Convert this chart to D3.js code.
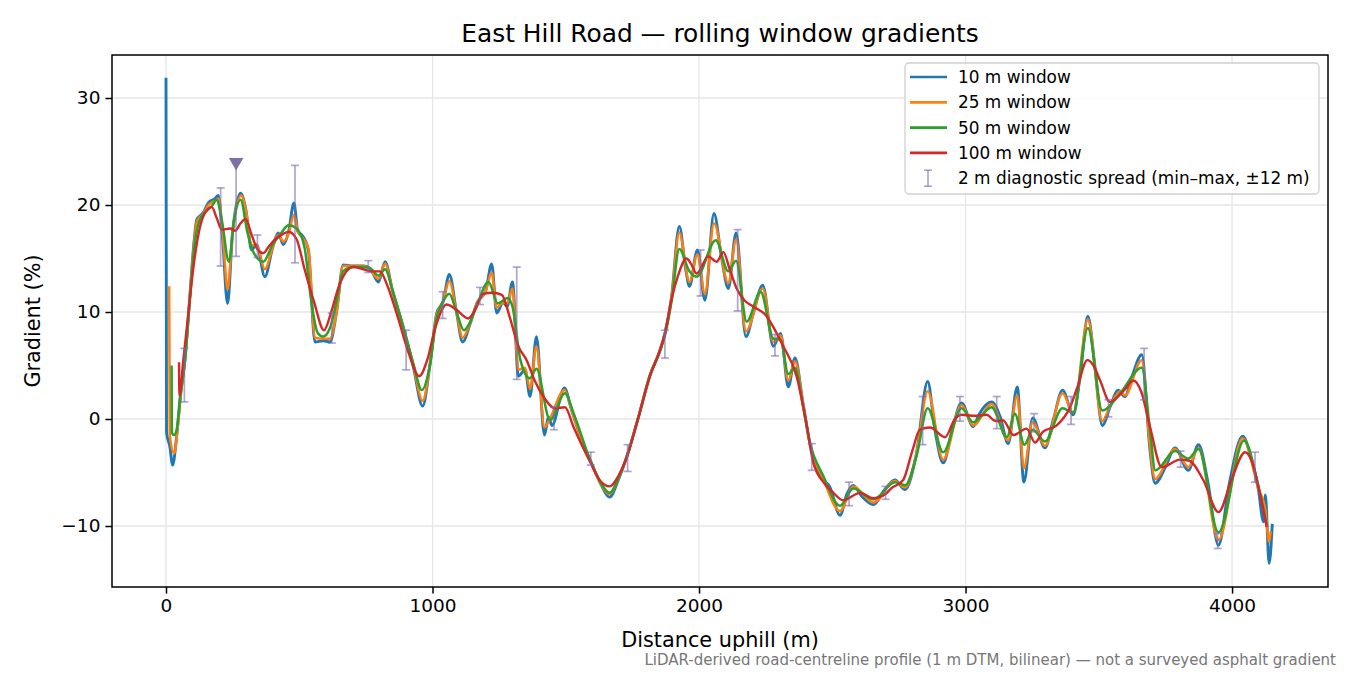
<!DOCTYPE html>
<html>
<head>
<meta charset="utf-8">
<script src="https://cdn.jsdelivr.net/npm/d3@7"></script>
<style>
  body { margin: 0; background: #fff; }
  text { font-family: "DejaVu Sans", sans-serif; }
</style>
</head>
<body>
<div id="chart"></div>
<script>
/* chart values: [distance m, gradient %] */
const win10 = [[0,31.9],[2,-1.3],[14,-2.5],[25,-4.3],[40,-1.6],[55,2.5],[71,5.5],[90,11.7],[105,16.5],[115,18.6],[140,19.3],[159,20.2],[184,20.6],[196,20.9],[212,17],[231,10.8],[250,17.5],[280,21.1],[300,19.5],[321,15.8],[340,16.3],[371,13.3],[400,16],[421,17.4],[440,16.3],[460,17.5],[480,20.2],[495,17.5],[510,17.2],[534,15.8],[559,7.2],[590,7.3],[615,7.2],[640,10],[665,14.4],[700,14.3],[740,14.3],[765,14.1],[797,12.8],[822,14.7],[850,12],[890,8.6],[928,4.9],[963,1.2],[990,5],[1016,9.9],[1040,11],[1063,13.5],[1090,10],[1113,7.2],[1140,8.8],[1166,10.8],[1200,12],[1222,14.5],[1241,9.9],[1265,10.9],[1280,10.5],[1300,12.8],[1322,4.0],[1347,4.6],[1366,2.1],[1390,7.7],[1420,-1.5],[1435,0.2],[1448,-0.6],[1495,2.9],[1520,1],[1560,-2],[1591,-3.8],[1630,-6],[1664,-7.3],[1700,-5.5],[1729,-3.5],[1773,0.2],[1816,4.1],[1853,6.4],[1872,8.0],[1897,11.4],[1926,18.0],[1950,14],[1964,12.4],[1994,15.8],[2022,11.1],[2056,19.2],[2085,15],[2110,12.2],[2139,17.4],[2176,7.7],[2205,10],[2239,12.5],[2279,6.8],[2306,8.0],[2335,3.0],[2360,5.7],[2390,1.5],[2416,-2.3],[2466,-5.7],[2490,-6.3],[2529,-9.0],[2555,-7],[2579,-6.2],[2610,-7.2],[2654,-8.0],[2700,-6.5],[2735,-5.7],[2773,-6.6],[2816,-3.2],[2858,3.5],[2885,-1],[2916,-4.1],[2950,-1],[2985,1.5],[3029,-0.7],[3050,0.4],[3098,1.6],[3130,0.2],[3160,-2.3],[3194,3.0],[3219,-5.9],[3252,0.1],[3298,-2.7],[3330,0],[3364,2.7],[3404,0.4],[3430,4],[3459,9.6],[3485,5],[3513,-0.6],[3542,1.1],[3573,2.7],[3598,2.1],[3625,4],[3661,6.0],[3692,-2.9],[3711,-6.0],[3750,-4.5],[3786,-2.7],[3836,-4.8],[3874,-2.4],[3910,-6],[3949,-11.8],[3990,-6],[4040,-1.6],[4070,-3.5],[4099,-6.6],[4118,-9.6],[4125,-7.1],[4139,-13.5],[4151,-9.8]];

const win25 = [[12,12.4],[14,-1.5],[31,-3.2],[45,-0.5],[58,2.8],[71,5.5],[90,11.6],[105,16.3],[115,18.4],[140,19.2],[159,20.0],[184,20.4],[198,20.6],[214,17],[231,12.1],[250,17.5],[282,20.9],[300,19.5],[321,16.2],[340,16.3],[371,14.0],[400,16],[421,17.2],[440,16.6],[460,17.3],[480,19.1],[495,17.5],[510,17.0],[534,16],[559,7.6],[590,7.5],[615,7.5],[640,10],[665,14.3],[700,14.3],[740,14.3],[765,14.0],[797,13.1],[822,14.5],[850,12],[890,8.6],[928,5],[963,1.7],[990,5],[1016,9.8],[1040,11],[1063,12.9],[1090,10],[1113,7.6],[1140,8.9],[1166,10.8],[1200,12],[1222,13.7],[1241,10.4],[1265,10.9],[1280,10.8],[1300,12.2],[1322,4.6],[1347,4.8],[1366,2.8],[1390,6.8],[1420,-0.8],[1440,0],[1495,2.7],[1520,1],[1560,-2],[1591,-3.8],[1630,-6],[1664,-7.0],[1700,-5.4],[1729,-3.5],[1773,0.2],[1816,4.1],[1853,6.4],[1872,8.0],[1897,11.4],[1926,17.4],[1964,12.8],[1994,15.4],[2022,11.7],[2056,18.3],[2110,12.7],[2139,16.8],[2176,8.2],[2239,12.2],[2279,7.2],[2306,7.8],[2335,3.6],[2360,5.4],[2390,1.5],[2416,-2.3],[2466,-5.6],[2529,-8.6],[2579,-6.3],[2654,-7.8],[2735,-5.8],[2773,-6.4],[2816,-3.2],[2858,2.6],[2916,-3.8],[2985,1.3],[3029,-0.6],[3098,1.4],[3160,-2.0],[3194,2.2],[3219,-4.6],[3252,-0.3],[3298,-2.5],[3364,2.4],[3404,0.6],[3459,9.3],[3513,-0.2],[3542,1.2],[3580,2.6],[3598,2.2],[3661,5.5],[3692,-2.5],[3711,-5.6],[3786,-2.8],[3836,-4.5],[3874,-2.7],[3949,-11.3],[4040,-1.8],[4099,-6.5],[4125,-8.5],[4139,-11.5],[4145,-10.5]];

const win50 = [[21,5.0],[22,-1.3],[30,-1.5],[40,-1.0],[55,2.3],[71,5.4],[90,11.3],[105,15.8],[125,18.5],[150,19.4],[175,20],[190,20.5],[210,18.5],[236,14.7],[255,18.5],[280,20.5],[305,17.5],[330,15.5],[365,14.7],[400,16.3],[430,17.3],[460,18.1],[490,17.8],[520,16],[545,11],[570,8],[590,7.7],[615,8.5],[640,11],[665,13.8],[700,14.2],[740,14.2],[770,14.0],[797,13.4],[822,14.0],[850,12],[890,8.6],[928,5.2],[960,2.7],[990,5],[1016,9.5],[1040,11],[1063,11.7],[1090,10],[1118,8.3],[1140,9],[1166,10.6],[1210,12.8],[1245,10.8],[1282,11.3],[1300,10.5],[1330,5.5],[1365,3.8],[1390,4.7],[1441,-0.1],[1497,2.4],[1530,0.5],[1591,-3.8],[1630,-5.9],[1664,-6.9],[1700,-5.4],[1729,-3.5],[1773,0.2],[1816,4.1],[1853,6.3],[1872,7.8],[1897,11],[1926,15.9],[1964,13.8],[1991,13.3],[2063,16.7],[2110,13.8],[2139,14.8],[2179,9.1],[2231,11.9],[2279,7.5],[2306,7.4],[2335,4.2],[2360,4.8],[2390,1.2],[2416,-2.2],[2466,-5.3],[2529,-8.1],[2579,-6.5],[2654,-7.5],[2735,-5.9],[2773,-6.2],[2816,-3.5],[2858,1.0],[2916,-3.1],[2985,1.0],[3029,-0.3],[3098,1.1],[3155,-1.7],[3185,0.5],[3221,-2.4],[3252,-1.0],[3298,-2.1],[3364,1.0],[3404,0.6],[3459,8.5],[3513,0.8],[3580,2.4],[3661,4.8],[3692,-1],[3712,-4.8],[3786,-3.0],[3836,-3.7],[3874,-2.8],[3949,-10.6],[4045,-2.0],[4099,-6.3],[4130,-9.9]];

const win100 = [[49,5.3],[50,2.2],[65,5.5],[84,9.9],[103,14.2],[128,18],[150,19.4],[172,19.8],[190,18.8],[209,17.7],[240,17.8],[260,17.6],[280,18.3],[299,18.7],[320,17.3],[345,15.8],[365,15.5],[385,16.1],[410,16.8],[440,17.3],[460,17.5],[490,16.8],[520,14],[555,11],[593,8.3],[620,10],[650,12.5],[703,14.2],[740,14.0],[770,13.8],[803,13.8],[830,12.5],[870,9.5],[910,6.2],[950,4.0],[980,5.5],[1010,8.5],[1053,10.7],[1090,10.2],[1134,9.4],[1160,10.2],[1190,11.7],[1225,11.8],[1260,11.6],[1290,9.5],[1322,6.8],[1353,5.5],[1385,3.5],[1416,2.1],[1460,1.0],[1497,1.1],[1530,-0.8],[1591,-4.0],[1630,-5.8],[1664,-6.3],[1700,-5.2],[1729,-3.6],[1773,0.2],[1816,4.0],[1853,6.4],[1872,8.0],[1897,11.2],[1920,13.3],[1953,15.0],[1970,14.5],[1991,13.6],[2035,15.2],[2066,14.7],[2091,15.6],[2115,14],[2141,12.2],[2170,11.1],[2204,10.5],[2254,9.6],[2285,8.3],[2316,6.8],[2366,4.0],[2400,0],[2429,-4.1],[2470,-6],[2504,-6.9],[2541,-7.6],[2604,-6.9],[2654,-7.4],[2700,-7.0],[2720,-6.5],[2766,-5.7],[2800,-3],[2829,-1.0],[2867,-0.8],[2923,-1.7],[2960,0],[2985,0.4],[3035,0.3],[3079,0.4],[3105,-0.1],[3123,-0.2],[3140,-0.1],[3180,-1.5],[3229,-0.9],[3261,-2.2],[3290,-1.2],[3342,-0.6],[3392,1.1],[3420,3],[3457,5.5],[3480,5],[3505,3.6],[3542,1.6],[3592,2.6],[3630,3.6],[3660,2.5],[3692,-0.7],[3736,-4.5],[3805,-3.8],[3840,-3.9],[3892,-5.7],[3949,-8.7],[4000,-5.5],[4049,-3.1],[4075,-4],[4099,-6.3],[4130,-10.1]];

// 2 m diagnostic spread (min / max within ±12 m)
const spreadDist = [69,205,263,343,484,622,759,901,1038,1178,1316,1456,1594,1732,1872,2006,2145,2285,2423,2563,2700,2839,2979,3117,3257,3396,3536,3670,3807,3946,4086];
const spreadMin = [1.6,14.3,15.2,15.1,14.6,7.1,13.7,4.6,9.4,10.7,3.7,-1.0,-4.3,-4.9,5.7,11.5,10.1,5.9,-4.8,-8.1,-7.5,-2.4,-0.2,-0.9,-1.2,-0.5,0.2,1.8,-4.5,-12.1,-5.9];
const spreadMax = [6.6,21.6,23.9,17.2,23.7,9.9,14.8,8.3,11.9,12.3,14.2,1.1,-3.1,-2.4,8.3,15.8,17.7,7.9,-2.3,-5.9,-6.3,2.1,2.1,2.1,0.5,2.1,1.8,6.6,-3.0,-10.7,-3.1];
// steepest 2 m spot
const peakMark = [263, 24.0];

const seriesNames = ["10 m window", "25 m window", "50 m window", "100 m window"];
const seriesData = [win10, win25, win50, win100];
const seriesColors = ["#1f77b4", "#ff7f0e", "#2ca02c", "#d62728"];
const seriesWidths = [2.9, 2.5, 2.5, 2.4];

const xTicks = [0, 1000, 2000, 3000, 4000];
const yTicks = [-10, 0, 10, 20, 30];

const width = 1350, height = 675,
  margin = { top: 55, right: 22, bottom: 88, left: 112 };

const svg = d3.select("#chart").append("svg")
  .attr("width", width).attr("height", height);

const x = d3.scaleLinear().domain([-202.6, 4360]).range([margin.left, width - margin.right]);
const y = d3.scaleLinear().domain([-15.7, 34.02]).range([height - margin.bottom, margin.top]);

// grid
svg.append("g").selectAll("line.vg").data(xTicks).join("line")
  .attr("x1", d => x(d)).attr("x2", d => x(d))
  .attr("y1", y.range()[1]).attr("y2", y.range()[0])
  .attr("stroke", "#e6e6e6").attr("stroke-width", 1.3);
svg.append("g").selectAll("line.hg").data(yTicks).join("line")
  .attr("y1", d => y(d)).attr("y2", d => y(d))
  .attr("x1", x.range()[0]).attr("x2", x.range()[1])
  .attr("stroke", "#e6e6e6").attr("stroke-width", 1.3);

svg.append("clipPath").attr("id", "clip").append("rect")
  .attr("x", margin.left).attr("y", margin.top)
  .attr("width", width - margin.left - margin.right)
  .attr("height", height - margin.top - margin.bottom);

const line = d3.line().x(d => x(d[0])).y(d => y(d[1])).curve(d3.curveMonotoneX);

const plot = svg.append("g").attr("clip-path", "url(#clip)");
plot.selectAll("path.series").data(seriesData).join("path")
  .attr("class", "series")
  .attr("d", line)
  .attr("fill", "none")
  .attr("stroke", (d, i) => seriesColors[i])
  .attr("stroke-width", (d, i) => seriesWidths[i])
  .attr("stroke-linejoin", "round");

// error bars
const spread = spreadDist.map((d, i) => ({ d, lo: spreadMin[i], hi: spreadMax[i] }));
const eb = plot.append("g").attr("stroke", "#756bb1").attr("stroke-opacity", 0.6).attr("stroke-width", 1.7);
eb.selectAll("line.bar").data(spread).join("line")
  .attr("x1", d => x(d.d)).attr("x2", d => x(d.d))
  .attr("y1", d => y(d.lo)).attr("y2", d => y(d.hi));
eb.selectAll("line.capl").data(spread).join("line")
  .attr("x1", d => x(d.d) - 4).attr("x2", d => x(d.d) + 4)
  .attr("y1", d => y(d.lo)).attr("y2", d => y(d.lo));
eb.selectAll("line.caph").data(spread).join("line")
  .attr("x1", d => x(d.d) - 4).attr("x2", d => x(d.d) + 4)
  .attr("y1", d => y(d.hi)).attr("y2", d => y(d.hi));

// marker
plot.append("path")
  .attr("d", d3.symbol().type(d3.symbolTriangle).size(90))
  .attr("transform", `translate(${x(peakMark[0])},${y(peakMark[1])}) rotate(180)`)
  .attr("fill", "#7f6fa6");

// axes
const xAxis = svg.append("g")
  .attr("transform", `translate(0,${height - margin.bottom})`)
  .call(d3.axisBottom(x).tickValues(xTicks).tickFormat(d3.format("d"))
    .tickSize(6.6).tickPadding(5).tickSizeOuter(0));
const yAxis = svg.append("g")
  .attr("transform", `translate(${margin.left},0)`)
  .call(d3.axisLeft(y).tickValues(yTicks).tickSize(6.6).tickPadding(5).tickSizeOuter(0));
[xAxis, yAxis].forEach(g => {
  g.select(".domain").remove();
  g.selectAll(".tick line").attr("stroke", "#000").attr("stroke-width", 1.5);
  g.selectAll(".tick text").attr("font-size", 18.5).attr("fill", "#000")
    .attr("font-family", "DejaVu Sans");
});

// frame
svg.append("rect")
  .attr("x", margin.left).attr("y", margin.top)
  .attr("width", width - margin.left - margin.right)
  .attr("height", height - margin.top - margin.bottom)
  .attr("fill", "none").attr("stroke", "#000").attr("stroke-width", 1.5);

// titles
svg.append("text").attr("x", (margin.left + width - margin.right) / 2).attr("y", 42)
  .attr("text-anchor", "middle").attr("font-size", 24.9).text("East Hill Road — rolling window gradients");
svg.append("text").attr("x", (margin.left + width - margin.right) / 2).attr("y", 647)
  .attr("text-anchor", "middle").attr("font-size", 20.8).text("Distance uphill (m)");
svg.append("text")
  .attr("transform", `translate(40,${(margin.top + height - margin.bottom) / 2}) rotate(-90)`)
  .attr("text-anchor", "middle").attr("font-size", 20.8).text("Gradient (%)");
svg.append("text").attr("x", 1336).attr("y", 665)
  .attr("text-anchor", "end").attr("font-size", 15).attr("fill", "#777")
  .text("LiDAR-derived road-centreline profile (1 m DTM, bilinear) — not a surveyed asphalt gradient");

// legend
const legend = svg.append("g").attr("transform", "translate(905,63)");
legend.append("rect").attr("width", 414).attr("height", 131).attr("rx", 4)
  .attr("fill", "#fff").attr("fill-opacity", 0.85).attr("stroke", "#d0d0d0").attr("stroke-width", 1.3);
const rows = seriesNames.concat(["2 m diagnostic spread (min–max, ±12 m)"]);
rows.forEach((name, i) => {
  const cy = 14 + i * 25.3;
  if (i < 4) {
    legend.append("line").attr("x1", 5).attr("x2", 42).attr("y1", cy).attr("y2", cy)
      .attr("stroke", seriesColors[i]).attr("stroke-width", 2.7);
  } else {
    const g = legend.append("g").attr("stroke", "#756bb1").attr("stroke-opacity", 0.6).attr("stroke-width", 1.7);
    g.append("line").attr("x1", 23).attr("x2", 23).attr("y1", cy - 8).attr("y2", cy + 8);
    g.append("line").attr("x1", 19).attr("x2", 27).attr("y1", cy - 8).attr("y2", cy - 8);
    g.append("line").attr("x1", 19).attr("x2", 27).attr("y1", cy + 8).attr("y2", cy + 8);
  }
  legend.append("text").attr("x", 53).attr("y", cy + 6).attr("font-size", 16.9).text(name);
});
</script>
</body>
</html>
